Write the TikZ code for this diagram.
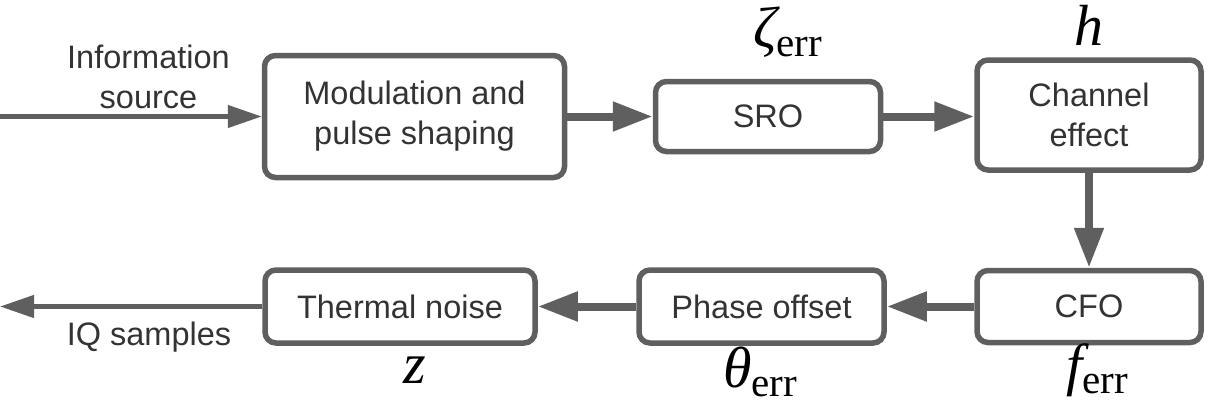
\documentclass[tikz,border=0pt]{standalone}
\usepackage{fontspec}
\setmainfont{Liberation Sans}
\newfontfamily\mathserif{Liberation Serif}
\usetikzlibrary{arrows.meta}
\definecolor{linegray}{HTML}{5F5F5F}
\definecolor{textgray}{HTML}{333333}
\tikzset{
  box/.style={draw=linegray, line width=5.5pt, rounded corners=11pt, fill=white,
    text=textgray, align=center, inner sep=0pt,
    font=\fontsize{32.5}{40}\selectfont},
  lbl/.style={text=textgray, align=center, inner sep=0pt,
    font=\fontsize{32.5}{40}\selectfont},
  sym/.style={text=black, inner sep=0pt, font=\mathserif\fontsize{58}{58}\selectfont},
  thickarr/.style={draw=linegray, line width=8pt, -{Triangle[length=40pt,width=28pt]}},
  thinarr/.style={draw=linegray, line width=4.5pt, -{Triangle[length=34pt,width=22pt]}}
}
\newcommand{\errsub}{\raisebox{-9pt}{\upshape\fontsize{41}{41}\selectfont err}}
\begin{document}
\begin{tikzpicture}[x=1pt,y=-1pt]
\useasboundingbox (0,0) rectangle (1221,405);
% boxes
\node[box, minimum width=300pt, minimum height=122pt] (mod) at (414.5,116.5) {Modulation and\\pulse shaping};
\node[box, minimum width=225pt, minimum height=70pt] (sro) at (768,116.5) {SRO};
\node[box, minimum width=224pt, minimum height=110pt] (chan) at (1089,115) {Channel\\effect};
\node[box, minimum width=224pt, minimum height=72pt] (cfo) at (1089,306.5) {CFO};
\node[box, minimum width=245pt, minimum height=73pt] (phase) at (761.5,306.5) {Phase offset};
\node[box, minimum width=270pt, minimum height=73pt] (thermal) at (400,306.5) {Thermal noise};
% free ends
\coordinate (src) at (0,116.5);
\coordinate (out) at (0,306.5);
% text labels
\node[lbl] (info) at (148.5,77) {Information\\source};
\node[lbl, anchor=base] (iq) at (149,345) {IQ samples};
% symbols
\node[sym, anchor=base west] (zeta) at (753,47) {{\itshape ζ}\errsub};
\node[sym, anchor=base] (h) at (1089,45) {\itshape h};
\node[sym, anchor=base west] (f) at (1066,384) {{\itshape f}\errsub};
\node[sym, anchor=base west] (theta) at (723,387) {{\itshape θ}\errsub};
\node[sym, anchor=base] (z) at (415,383) {\itshape z};
% connectors
\draw[thinarr] (src) -- (mod.west);
\draw[thickarr] (mod.east) -- (sro.west);
\draw[thickarr] (sro.east) -- (sro.east -| chan.west);
\draw[thickarr] (chan.south) -- (cfo.north);
\draw[thickarr] (cfo.west) -- (phase.east);
\draw[thickarr] (phase.west) -- (thermal.east);
\draw[thinarr] (thermal.west) -- (out);
\end{tikzpicture}
\end{document}
